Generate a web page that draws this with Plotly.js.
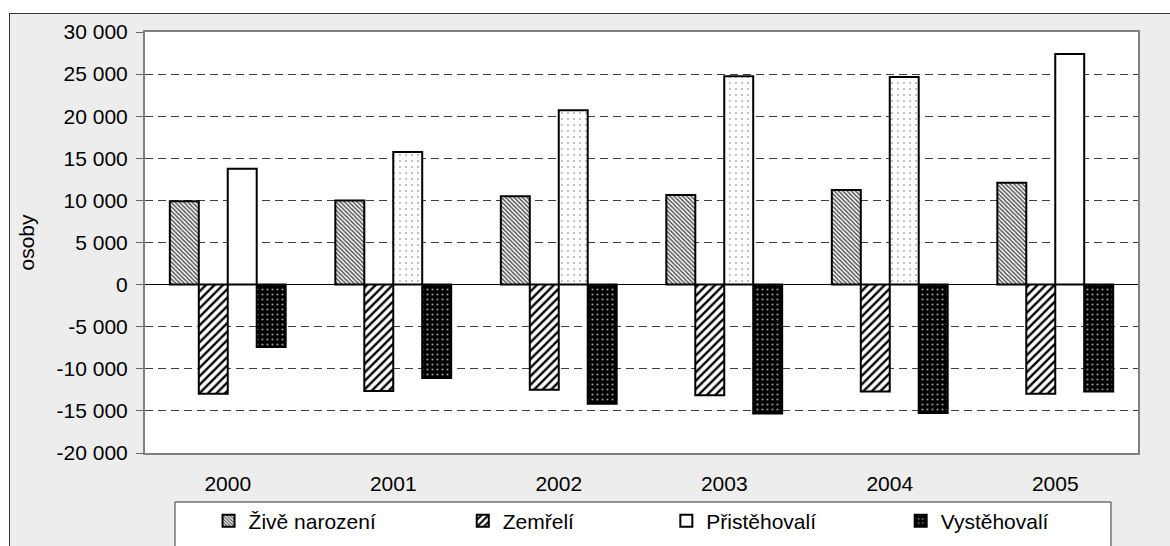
<!DOCTYPE html>
<html>
<head>
<meta charset="utf-8">
<script src="https://cdn.plot.ly/plotly-3.0.1.min.js"></script>
<style>
  html, body { margin: 0; padding: 0; background: #fff; overflow: hidden; }
  #chart {
    position: absolute; left: 9px; top: 13px;
    width: 1180px; height: 560px;
    border-left: 1px solid #333; border-top: 1px solid #333;
  }
</style>
</head>
<body>
<div id="chart"></div>
<script>
// data (osoby)
const years = ["2000", "2001", "2002", "2003", "2004", "2005"];
const zive = [9900, 10000, 10500, 10650, 11250, 12100];
const zemreli = [-12950, -12650, -12500, -13150, -12700, -12950];
const pristehovali = [13750, 15750, 20700, 24750, 24650, 27400];
const vystehovali = [-7400, -11100, -14150, -15300, -15250, -12700];

const yTickVals = [-20000, -15000, -10000, -5000, 0, 5000, 10000, 15000, 20000, 25000, 30000];
const yTickText = ["-20 000", "-15 000", "-10 000", "-5 000", "0", "5 000", "10 000", "15 000", "20 000", "25 000", "30 000"];

const FONT = "Liberation Sans, Arial, sans-serif";
const outline = { color: "#000", width: 2 };

const traces = [
  {
    type: "bar", name: "Živě narození", x: years, y: zive, legend: "legend",
    marker: { color: "#fff", line: outline,
      pattern: { shape: "\\", fgcolor: "#555", bgcolor: "#fff", size: 3, solidity: 0.5 } }
  },
  {
    type: "bar", name: "Zemřelí", x: years, y: zemreli, legend: "legend2",
    marker: { color: "#fff", line: outline,
      pattern: { shape: "/", fgcolor: "#000", bgcolor: "#fff", size: 6, solidity: 0.4 } }
  },
  {
    type: "bar", name: "Přistěhovalí", x: years, y: pristehovali, legend: "legend3",
    marker: { color: "#fff", line: outline,
      // the first and last bars are plain white in the original
      pattern: { shape: ["", ".", ".", ".", ".", ""], fgcolor: "#aaa", bgcolor: "#fff", size: 6, solidity: 0.08 } }
  },
  {
    type: "bar", name: "Vystěhovalí", x: years, y: vystehovali, legend: "legend4",
    marker: { color: "#000", line: outline,
      pattern: { shape: ".", fgcolor: "#999", bgcolor: "#000", size: 5, solidity: 0.15 } }
  }
];

const legendBase = {
  orientation: "v", xanchor: "left", yanchor: "middle", y: -0.162,
  bgcolor: "rgba(0,0,0,0)", borderwidth: 0,
  font: { family: FONT, size: 21, color: "#000" }
};

const layout = {
  width: 1180, height: 560,
  margin: { l: 135, r: 52, t: 18, b: 121 },
  paper_bgcolor: "#ededed",
  plot_bgcolor: "#fff",
  font: { family: FONT, size: 21, color: "#000" },
  separators: ", ",
  barmode: "group",
  bargap: 0.3,
  bargroupgap: 0,
  xaxis: {
    type: "category",
    showline: true, mirror: true, linecolor: "#808080", linewidth: 2,
    ticks: "", showgrid: false, zeroline: false,
    ticklabelstandoff: 11,
    tickfont: { family: FONT, size: 21, color: "#000" }
  },
  // boundary ticks sitting on the zero line
  xaxis2: {
    overlaying: "x", anchor: "free", position: 0.4,
    range: [-0.5, 5.5], tickmode: "array", tickvals: [0.5, 1.5, 2.5, 3.5, 4.5],
    ticks: "outside", ticklen: 5, tickcolor: "#666", tickwidth: 1,
    showticklabels: false, showline: false, showgrid: false, zeroline: false
  },
  yaxis: {
    range: [-20000, 30000],
    tickmode: "array", tickvals: yTickVals, ticktext: yTickText,
    showline: true, mirror: true, linecolor: "#808080", linewidth: 2,
    ticks: "outside", ticklen: 7, tickcolor: "#666", tickwidth: 1,
    ticklabelstandoff: 4,
    showgrid: true, gridcolor: "#404040", gridwidth: 1, griddash: "8px,5px",
    zeroline: true, zerolinecolor: "#000", zerolinewidth: 1,
    tickfont: { family: FONT, size: 21, color: "#000" },
    title: { text: "osoby", font: { family: FONT, size: 21, color: "#000" }, standoff: 16 }
  },
  legend: Object.assign({}, legendBase, { x: 0.064 }),
  legend2: Object.assign({}, legendBase, { x: 0.320 }),
  legend3: Object.assign({}, legendBase, { x: 0.525 }),
  legend4: Object.assign({}, legendBase, { x: 0.761 }),
  shapes: [
    {
      type: "rect", xref: "paper", yref: "paper", layer: "below",
      x0: 0.0302, x1: 0.9728, y0: -0.1164, y1: -0.6,
      fillcolor: "#fff", line: { color: "#333", width: 1 }
    }
  ],
  showlegend: true
};

Plotly.newPlot("chart", traces, layout, { displayModeBar: false, staticPlot: true });
</script>
</body>
</html>
